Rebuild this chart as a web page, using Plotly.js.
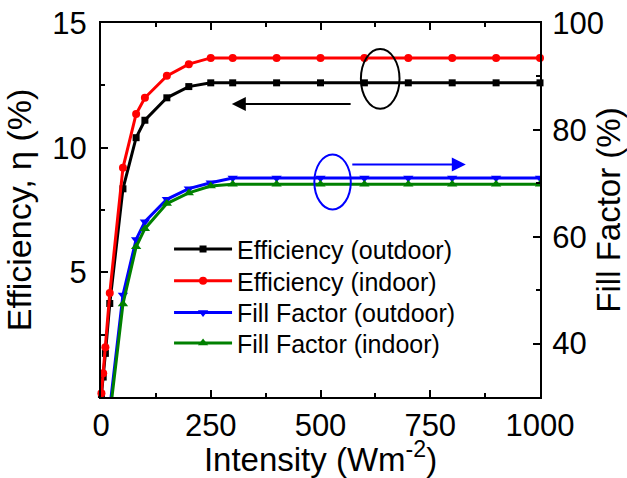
<!DOCTYPE html>
<html>
<head>
<meta charset="utf-8">
<script src="https://cdn.plot.ly/plotly-3.0.1.min.js"></script>
<style>html,body{margin:0;padding:0;background:#fff;}#chart{width:627px;height:478px;}</style>
</head>
<body>
<div id="chart"></div>
<script>
// Light intensity (W m^-2)
const intensity = [1, 5, 10, 20, 50, 80, 100, 150, 200, 250, 300, 400, 500, 600, 700, 800, 900, 1000];
// Efficiency (%)
const effOutdoor = [0.1, 0.8, 1.75, 3.75, 8.35, 10.4, 11.1, 12.0, 12.45, 12.6, 12.6, 12.6, 12.6, 12.6, 12.6, 12.6, 12.6, 12.6];
const effIndoor  = [0.15, 0.95, 2.0, 4.17, 9.19, 11.35, 12.0, 12.88, 13.35, 13.6, 13.6, 13.6, 13.6, 13.6, 13.6, 13.6, 13.6, 13.6];
// Fill factor (%)
const ffOutdoor = [15, 20, 24, 27.9, 49.1, 59.5, 62.8, 67.0, 69.0, 70.1, 71.0, 71.0, 71.0, 71.0, 71.0, 71.0, 71.0, 71.0];
const ffIndoor  = [14, 19, 23, 26.5, 47.4, 58.1, 61.5, 66.2, 68.2, 69.5, 69.8, 69.8, 69.8, 69.8, 69.8, 69.8, 69.8, 69.8];

const seriesNames = ['Efficiency (outdoor)', 'Efficiency (indoor)', 'Fill Factor (outdoor)', 'Fill Factor (indoor)'];
const xTickVals = [0, 250, 500, 750, 1000];
const yTickVals = [5, 10, 15];
const y2TickVals = [40, 60, 80, 100];

const FONT = '"Liberation Sans", Arial, sans-serif';

const traces = [
  {x: intensity, y: effOutdoor, name: seriesNames[0], yaxis: 'y', legend: 'legend',
   mode: 'lines+markers', cliponaxis: false,
   line: {color: '#000000', width: 3}, marker: {symbol: 'square', size: 7, color: '#000000'}},
  {x: intensity, y: effIndoor, name: seriesNames[1], yaxis: 'y', legend: 'legend2',
   mode: 'lines+markers', cliponaxis: false,
   line: {color: '#ff0000', width: 3}, marker: {symbol: 'circle', size: 8, color: '#ff0000'}},
  {x: intensity, y: ffOutdoor, name: seriesNames[2], yaxis: 'y2', legend: 'legend3',
   mode: 'lines+markers',
   line: {color: '#0000ff', width: 3}, marker: {symbol: 'triangle-down', size: 9, color: '#0000ff'}},
  {x: intensity, y: ffIndoor, name: seriesNames[3], yaxis: 'y2', legend: 'legend4',
   mode: 'lines+markers',
   line: {color: '#008000', width: 3}, marker: {symbol: 'triangle-up', size: 9, color: '#008000'}}
];

function leg(y) {
  return {x: 0.155, y: y, xanchor: 'left', yanchor: 'middle', bgcolor: 'rgba(0,0,0,0)',
          borderwidth: 0, itemwidth: 58, font: {family: FONT, size: 25, color: '#000'}};
}

const axisCommon = {
  showgrid: false, zeroline: false, showline: true, linecolor: '#000', linewidth: 2,
  ticks: 'inside', ticklen: 7, tickwidth: 2, tickcolor: '#000',
  tickfont: {family: FONT, size: 31, color: '#000'}
};

const layout = {
  width: 627, height: 478,
  margin: {l: 101, r: 87, t: 23, b: 81, pad: 0},
  paper_bgcolor: '#fff', plot_bgcolor: '#fff',
  font: {family: FONT, color: '#000'},
  showlegend: true,
  legend: leg(0.395), legend2: leg(0.310), legend3: leg(0.2254), legend4: leg(0.1436),
  xaxis: Object.assign({}, axisCommon, {
    range: [0, 1000], tickvals: xTickVals, mirror: 'ticks',
    minor: {tickvals: [125, 375, 625, 875], ticks: 'inside', ticklen: 4, tickwidth: 2, tickcolor: '#000'},
    title: {text: 'Intensity (Wm<sup>-2</sup>)', font: {family: FONT, size: 33, color: '#000'}, standoff: 11}
  }),
  yaxis: Object.assign({}, axisCommon, {
    range: [0, 15], tickvals: yTickVals, ticklabelstandoff: 6,
    minor: {tickvals: [2.5, 7.5, 12.5], ticks: 'inside', ticklen: 4, tickwidth: 2, tickcolor: '#000'},
    title: {text: 'Efficiency, η (%)', font: {family: FONT, size: 34, color: '#000'}, standoff: 10}
  }),
  yaxis2: Object.assign({}, axisCommon, {
    overlaying: 'y', side: 'right', range: [30, 100], tickvals: y2TickVals, ticklabelstandoff: 4,
    minor: {tickvals: [50, 70, 90], ticks: 'inside', ticklen: 4, tickwidth: 2, tickcolor: '#000'},
    title: {text: 'Fill Factor (%)', font: {family: FONT, size: 33, color: '#000'}, standoff: 12}
  }),
  shapes: [
    {type: 'circle', xref: 'x', yref: 'y', x0: 592, x1: 680, y0: 11.56, y1: 13.96,
     line: {color: '#000', width: 2}},
    {type: 'circle', xref: 'x', yref: 'y2', x0: 486, x1: 569, y0: 65.1, y1: 75.4,
     line: {color: '#0000ff', width: 2}}
  ],
  annotations: [
    {xref: 'x', yref: 'y', axref: 'x', ayref: 'y', x: 298, y: 11.75, ax: 572, ay: 11.75,
     text: '', showarrow: true, arrowhead: 2, arrowsize: 1.4, arrowwidth: 2, arrowcolor: '#000'},
    {xref: 'x', yref: 'y2', axref: 'x', ayref: 'y2', x: 831, y: 73.5, ax: 569, ay: 73.5,
     text: '', showarrow: true, arrowhead: 2, arrowsize: 1.4, arrowwidth: 2, arrowcolor: '#0000ff'}
  ]
};

Plotly.newPlot('chart', traces, layout, {displayModeBar: false, staticPlot: true});
</script>
</body>
</html>
